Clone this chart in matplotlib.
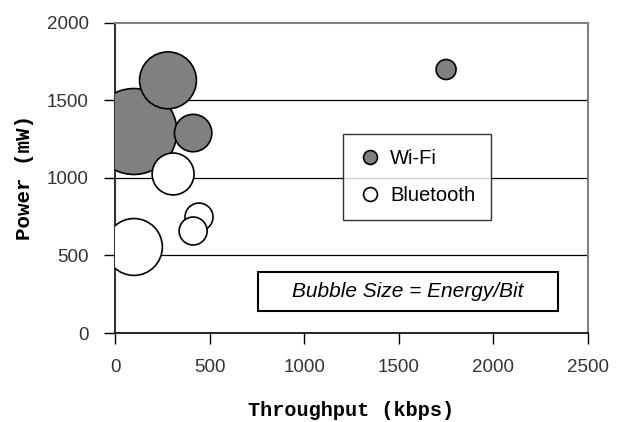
import matplotlib
matplotlib.use("Agg")
import matplotlib.pyplot as plt
from matplotlib.lines import Line2D
from matplotlib.patches import Rectangle

# data
wifi_kbps = [100, 280, 413, 1750]
wifi_mw = [1300, 1630, 1290, 1700]
wifi_energy = [18.5, 8.1, 3.5, 1.0]   # relative energy per bit (bubble area)

bt_kbps = [307, 100, 444, 413]
bt_mw = [1026, 555, 748, 658]
bt_energy = [4.4, 8.1, 1.96, 1.96]

x_ticks = [0, 500, 1000, 1500, 2000, 2500]
y_ticks = [0, 500, 1000, 1500, 2000]

SCALE = 207  # marker area per energy unit

tick_font = "Liberation Sans"
label_font = "Liberation Mono"

fig = plt.figure(figsize=(6.23, 4.22), dpi=100)
ax = fig.add_axes([0.1846, 0.2109, 0.7592, 0.7346])

ax.scatter(wifi_kbps, wifi_mw, s=[e * SCALE for e in wifi_energy],
           facecolor="#808080", edgecolor="black", linewidth=1.2, zorder=3)
ax.scatter(bt_kbps, bt_mw, s=[e * SCALE for e in bt_energy],
           facecolor="white", edgecolor="black", linewidth=1.2, zorder=3)

ax.set_xlim(0, 2500)
ax.set_ylim(0, 2000)
ax.set_xticks(x_ticks)
ax.set_yticks(y_ticks)
for y in y_ticks[1:-1]:
    ax.axhline(y, color="black", linewidth=0.9, zorder=1)

for side in ["top", "right"]:
    ax.spines[side].set_color("#808080")
    ax.spines[side].set_linewidth(1.5)
ax.spines["left"].set_color("#333333")
ax.spines["left"].set_linewidth(1.5)
ax.spines["bottom"].set_color("black")
ax.spines["bottom"].set_linewidth(1.2)

ax.tick_params(direction="out", length=8, width=1, color="black",
               labelsize=13.5, labelcolor="#333333", pad=11)
for lab in ax.get_xticklabels() + ax.get_yticklabels():
    lab.set_fontfamily(tick_font)

ax.set_xlabel("Throughput (kbps)", fontfamily=label_font, fontweight="bold",
              fontsize=14.5, labelpad=18)
ax.set_ylabel("Power (mW)", fontfamily=label_font, fontweight="bold",
              fontsize=15, labelpad=9)

handles = [
    Line2D([], [], marker="o", linestyle="none", markersize=10,
           markerfacecolor="#808080", markeredgecolor="black", markeredgewidth=1.2),
    Line2D([], [], marker="o", linestyle="none", markersize=10,
           markerfacecolor="white", markeredgecolor="black", markeredgewidth=1.2),
]
leg = ax.legend(handles, ["Wi-Fi", "Bluetooth"], loc="upper left",
                bbox_to_anchor=(0.482, 0.642), borderaxespad=0, frameon=True,
                fancybox=False, handlelength=1.2, handletextpad=0.4,
                labelspacing=0.9, borderpad=0.75,
                prop={"family": tick_font, "size": 14.5})
leg.get_frame().set_edgecolor("black")
leg.get_frame().set_linewidth(1.0)

# annotation box
ax.add_patch(Rectangle((0.302, 0.071), 0.635, 0.126, transform=ax.transAxes,
                       facecolor="white", edgecolor="black", linewidth=1.5,
                       zorder=4))
ax.text(0.619, 0.134, "Bubble Size = Energy/Bit", transform=ax.transAxes,
        ha="center", va="center", fontsize=15, fontstyle="italic",
        fontfamily=tick_font, zorder=5)

fig.savefig("out.png", dpi=100)
